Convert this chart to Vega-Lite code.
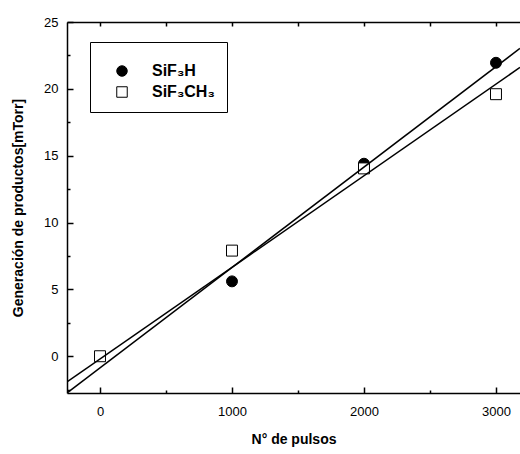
{
  "$schema": "https://vega.github.io/schema/vega-lite/v6.json",
  "width": 453,
  "height": 371,
  "autosize": {"type": "none"},
  "padding": {"left": 67, "top": 22, "right": 0, "bottom": 61},
  "background": "white",
  "config": {
    "view": {"stroke": null},
    "font": "Liberation Sans",
    "axis": {
      "domainColor": "black",
      "domainWidth": 1.5,
      "ticks": true,
      "tickColor": "black",
      "tickWidth": 1.5,
      "grid": false,
      "labelOverlap": false,
      "labelColor": "black",
      "labelFont": "Liberation Sans",
      "labelFontSize": 13,
      "titleColor": "black",
      "titleFont": "Liberation Sans",
      "titleFontSize": 14,
      "titleFontWeight": "bold"
    },
    "legend": {
      "orient": "none",
      "legendX": 23,
      "legendY": 20,
      "strokeColor": "black",
      "strokeWidth": 1,
      "fillColor": "white",
      "padding": 12,
      "symbolOffset": 12,
      "symbolSize": 110,
      "symbolStrokeColor": "black",
      "symbolStrokeWidth": 1,
      "labelFont": "Liberation Sans",
      "labelFontSize": 16,
      "labelFontWeight": "bold",
      "labelColor": "black",
      "labelOffset": 22,
      "rowPadding": 5,
      "titleFontSize": 7,
      "titlePadding": 2
    }
  },
  "datasets": {
    "pts": [
      {"serie": "SiF₃H", "x": 1000, "y": 5.6},
      {"serie": "SiF₃H", "x": 2000, "y": 14.4},
      {"serie": "SiF₃H", "x": 3000, "y": 21.95},
      {"serie": "SiF₃CH₃", "x": 0, "y": 0},
      {"serie": "SiF₃CH₃", "x": 1000, "y": 7.9},
      {"serie": "SiF₃CH₃", "x": 2000, "y": 14.05},
      {"serie": "SiF₃CH₃", "x": 3000, "y": 19.6}
    ],
    "fits": [
      {"serie": "SiF₃H", "x": -250, "y": -2.75},
      {"serie": "SiF₃H", "x": 3182, "y": 23.03},
      {"serie": "SiF₃CH₃", "x": -250, "y": -1.92},
      {"serie": "SiF₃CH₃", "x": 3182, "y": 21.6}
    ]
  },
  "resolve": {"axis": {"x": "independent", "y": "independent"}},
  "layer": [
    {
      "data": {"name": "pts"},
      "mark": {"type": "point", "filled": true, "strokeWidth": 1, "opacity": 1, "size": 120},
      "encoding": {
        "x": {
          "field": "x", "type": "quantitative",
          "scale": {"domain": [-250, 3182], "nice": false, "zero": false},
          "axis": {
            "orient": "bottom",
            "title": "N° de pulsos",
            "format": "d",
            "values": [0, 1000, 2000, 3000],
            "tickSize": -6,
            "labelPadding": 18,
            "titlePadding": 14
          }
        },
        "y": {
          "field": "y", "type": "quantitative",
          "scale": {"domain": [-2.75, 25], "nice": false, "zero": false},
          "axis": {
            "orient": "left",
            "title": "Generación de productos[mTorr]",
            "values": [0, 5, 10, 15, 20, 25],
            "tickSize": -6,
            "labelPadding": 15,
            "titlePadding": 18
          }
        },
        "shape": {
          "field": "serie", "type": "nominal",
          "scale": {"domain": ["SiF₃H", "SiF₃CH₃"], "range": ["circle", "square"]},
          "legend": {"title": " "}
        },
        "fill": {
          "field": "serie", "type": "nominal",
          "scale": {"domain": ["SiF₃H", "SiF₃CH₃"], "range": ["black", "white"]},
          "legend": {"title": " "}
        },
        "stroke": {
          "field": "serie", "type": "nominal",
          "scale": {"domain": ["SiF₃H", "SiF₃CH₃"], "range": ["black", "black"]},
          "legend": {"title": " "}
        }
      }
    },
    {
      "data": {"name": "fits"},
      "mark": {"type": "line", "color": "black", "strokeWidth": 1.5, "clip": true},
      "encoding": {
        "x": {
          "field": "x", "type": "quantitative",
          "scale": {"domain": [-250, 3182], "nice": false, "zero": false},
          "axis": {
            "orient": "top",
            "title": null,
            "labels": false,
            "values": [0, 500, 1000, 1500, 2000, 2500, 3000],
            "tickSize": -4
          }
        },
        "y": {
          "field": "y", "type": "quantitative",
          "axis": {
            "orient": "left",
            "title": null,
            "labels": false,
            "domain": false,
            "values": [-2.5, 2.5, 7.5, 12.5, 17.5, 22.5],
            "tickSize": -3
          }
        },
        "detail": {"field": "serie", "type": "nominal"}
      }
    },
    {
      "data": {"name": "pts"},
      "mark": {"type": "point", "opacity": 0},
      "encoding": {
        "x": {
          "field": "x", "type": "quantitative",
          "axis": {
            "orient": "bottom",
            "title": null,
            "labels": false,
            "domain": false,
            "values": [500, 1500, 2500],
            "tickSize": -3
          }
        },
        "y": {"field": "y", "type": "quantitative", "axis": null}
      }
    }
  ]
}
